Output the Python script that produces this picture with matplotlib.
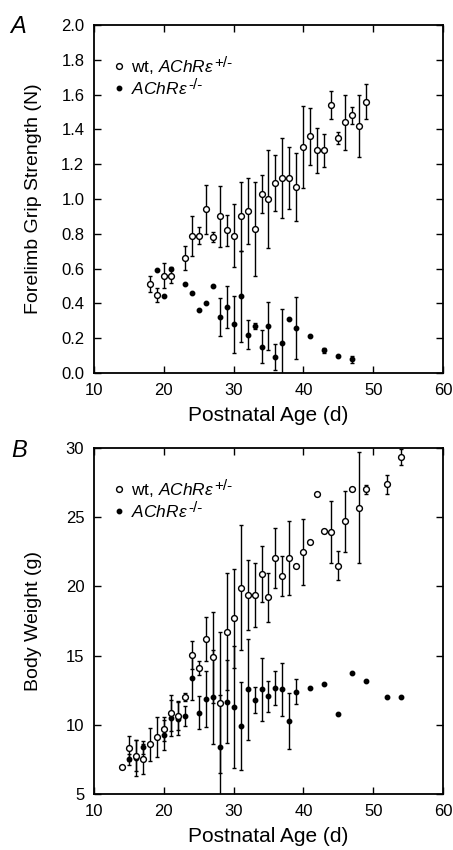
import matplotlib
matplotlib.use("Agg")
import matplotlib.pyplot as plt
from matplotlib.lines import Line2D

plt.rcParams['font.family'] = ['Liberation Sans', 'DejaVu Sans']
plt.rcParams['mathtext.fontset'] = 'custom'
plt.rcParams['mathtext.rm'] = 'Liberation Sans'
plt.rcParams['mathtext.it'] = 'Liberation Sans:italic'

# A: forelimb grip strength (N)
days_a_wt = [18, 19, 20, 21, 23, 24, 25, 26, 27, 28, 29, 30, 31, 32, 33, 34,
             35, 36, 37, 38, 39, 40, 41, 42, 43, 44, 45, 46, 47, 48, 49]
grip_wt = [0.51, 0.45, 0.56, 0.56, 0.66, 0.79, 0.79, 0.94, 0.78, 0.90, 0.82,
           0.79, 0.90, 0.93, 0.83, 1.03, 1.00, 1.09, 1.12, 1.12, 1.07, 1.30,
           1.36, 1.28, 1.28, 1.54, 1.35, 1.44, 1.48, 1.42, 1.56]
grip_wt_err = [0.045, 0.04, 0.07, 0.04, 0.07, 0.115, 0.05, 0.14, 0.03, 0.175,
               0.09, 0.18, 0.20, 0.19, 0.27, 0.11, 0.28, 0.16, 0.23, 0.18,
               0.195, 0.235, 0.165, 0.13, 0.095, 0.08, 0.035, 0.16, 0.05,
               0.18, 0.10]

days_a_ko = [19, 20, 21, 23, 24, 25, 26, 27, 28, 29, 30, 31, 32, 33, 34, 35,
             36, 37, 38, 39, 41, 43, 45, 47]
grip_ko = [0.59, 0.44, 0.60, 0.51, 0.46, 0.36, 0.40, 0.50, 0.32, 0.38, 0.28,
           0.44, 0.22, 0.27, 0.15, 0.27, 0.09, 0.17, 0.31, 0.26, 0.21, 0.13,
           0.10, 0.08]
grip_ko_err = [0, 0, 0.01, 0, 0, 0, 0, 0, 0.11, 0.12, 0.165, 0.26, 0.085,
               0.02, 0.095, 0.14, 0.075, 0.20, 0, 0.177, 0, 0.013, 0, 0.02]

# B: body weight (g)
days_b_wt = [14, 15, 16, 17, 18, 19, 20, 21, 22, 23, 24, 25, 26, 27, 28, 29,
             30, 31, 32, 33, 34, 35, 36, 37, 38, 39, 40, 41, 42, 43, 44, 45,
             46, 47, 48, 49, 52, 54]
weight_wt = [6.97, 8.3, 7.77, 7.53, 8.59, 9.14, 9.7, 10.87, 10.66, 12.0,
             15.04, 14.08, 16.2, 14.88, 11.6, 16.73, 17.69, 19.9, 19.38,
             19.38, 20.9, 19.2, 22.05, 20.75, 22.05, 21.5, 22.49, 23.2,
             26.65, 24.0, 23.9, 21.5, 24.7, 27.0, 25.69, 27.0, 27.38, 29.35]
weight_wt_err = [0, 0.9, 1.1, 1.1, 1.2, 1.45, 0.85, 1.3, 1.06, 0.3, 1.0, 0.5,
                 1.6, 3.3, 5.1, 4.2, 3.6, 4.5, 2.5, 2.3, 2.0, 1.75, 2.15,
                 1.45, 2.65, 0, 2.4, 0, 0, 0, 2.24, 1.07, 2.2, 0, 4.0, 0.3,
                 0.7, 0.6]

days_b_ko = [15, 16, 17, 20, 21, 22, 23, 24, 25, 26, 27, 28, 29, 30, 31, 32,
             33, 34, 35, 36, 37, 38, 39, 41, 43, 45, 47, 49, 52, 54]
weight_ko = [7.5, 7.6, 8.37, 9.26, 10.5, 10.43, 10.64, 13.36, 10.87, 11.86,
             12.03, 8.37, 11.67, 11.31, 9.91, 12.56, 11.79, 12.56, 12.05,
             12.65, 12.56, 10.27, 12.4, 12.64, 12.93, 10.78, 13.72, 13.19,
             11.99, 11.99]
weight_ko_err = [0.4, 1.3, 0.45, 1.1, 1.3, 1.2, 0.7, 1.6, 1.2, 2.0, 3.4, 3.8,
                 3.0, 4.4, 3.2, 3.65, 0.95, 2.3, 1.1, 1.25, 1.9, 2.05, 0.9,
                 0, 0, 0, 0, 0, 0, 0]

lab_wt = 'wt, $\\mathit{AChR\u03b5}$'
lab_ko = '$\\mathit{AChR\u03b5}$'
sup_wt = '+/-'
sup_ko = '-/-'

fig = plt.figure(figsize=(4.53, 8.5), dpi=100)
axA = fig.add_axes([0.2075, 0.5612, 0.7704, 0.4094])
axB = fig.add_axes([0.2075, 0.0659, 0.7704, 0.4071])


def draw(ax, dw, vw, ew, dk, vk, ek):
    ax.errorbar(dk, vk, yerr=ek, fmt='o', ms=3.2, mfc='black', mec='black',
                ecolor='black', elinewidth=1.0, capsize=1.6, capthick=1.0,
                zorder=2)
    ax.errorbar(dw, vw, yerr=ew, fmt='o', ms=4.2, mfc='white', mec='black',
                mew=1.0, ecolor='black', elinewidth=1.0, capsize=1.6,
                capthick=1.0, zorder=3)
    h1 = Line2D([], [], ls='', marker='o', ms=4.2, mfc='white', mec='black', mew=1.0)
    h2 = Line2D([], [], ls='', marker='o', ms=3.2, mfc='black', mec='black')
    leg = ax.legend([h1, h2], [lab_wt, lab_ko], loc='upper left',
                    bbox_to_anchor=(0.025, 0.94), frameon=False, fontsize=12.5,
                    handlelength=0.5, handletextpad=0.45, labelspacing=0.3,
                    borderpad=0.2)
    for txt, sup in zip(leg.get_texts(), [sup_wt, sup_ko]):
        ax.annotate(sup, xy=(1.0, 0.33), xycoords=txt, fontsize=11,
                    ha='left', va='bottom', zorder=10)
    ax.set_xlim(10, 60)
    ax.set_xticks(range(10, 61, 10))
    ax.tick_params(direction='in', top=True, right=True, length=5, width=1,
                   labelsize=12, pad=7)
    for s in ax.spines.values():
        s.set_linewidth(1.3)


draw(axA, days_a_wt, grip_wt, grip_wt_err, days_a_ko, grip_ko, grip_ko_err)
axA.set_ylim(0, 2.0)
axA.set_yticks([i * 0.2 for i in range(11)])
axA.set_yticklabels(['%.1f' % (i * 0.2) for i in range(11)])
axA.set_xlabel('Postnatal Age (d)', fontsize=15)
axA.set_ylabel('Forelimb Grip Strength (N)', fontsize=14)
axA.xaxis.set_label_coords(0.5, -0.095)
axA.yaxis.set_label_coords(-0.148, 0.5)

draw(axB, days_b_wt, weight_wt, weight_wt_err, days_b_ko, weight_ko, weight_ko_err)
axB.set_ylim(5, 30)
axB.set_yticks(range(5, 31, 5))
axB.set_xlabel('Postnatal Age (d)', fontsize=15)
axB.set_ylabel('Body Weight (g)', fontsize=14)
axB.xaxis.set_label_coords(0.5, -0.095)
axB.yaxis.set_label_coords(-0.148, 0.5)

fig.text(0.022, 0.982, 'A', fontsize=17, style='italic', va='top')
fig.text(0.024, 0.484, 'B', fontsize=17, style='italic', va='top')

fig.savefig('out.png', dpi=100)
